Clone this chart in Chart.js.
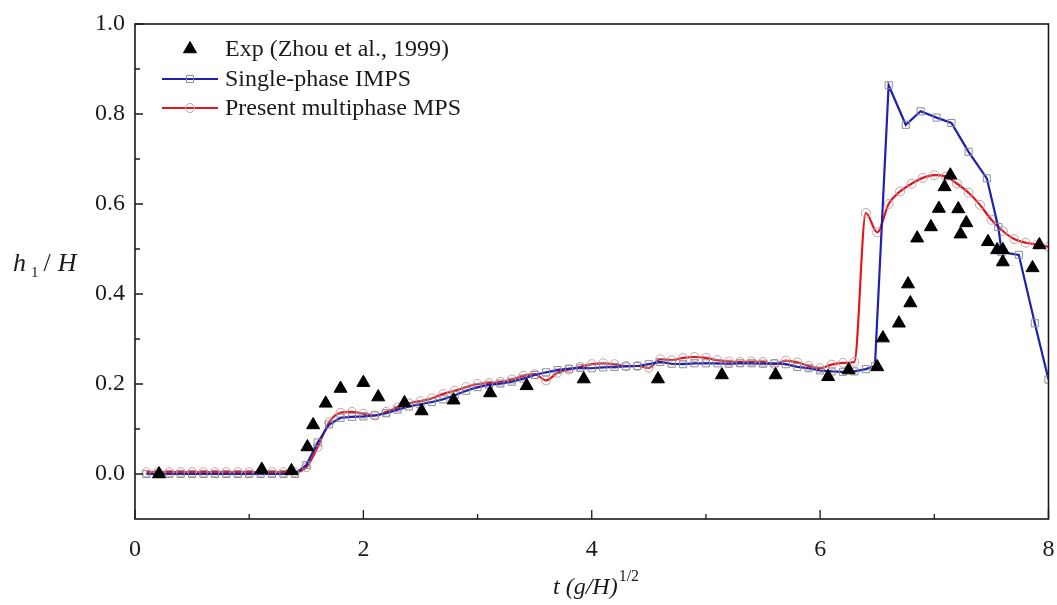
<!DOCTYPE html>
<html>
<head>
<meta charset="utf-8">
<script src="https://cdn.jsdelivr.net/npm/chart.js@4.4.1/dist/chart.umd.min.js"></script>
<style>
  html, body { margin: 0; padding: 0; background: #ffffff; }
  #wrap { width: 1057px; height: 605px; position: relative; }
</style>
</head>
<body>
<div id="wrap"><canvas id="c" width="1057" height="605"></canvas></div>
<script>
// ---------------- data ----------------
const expLabel = 'Exp (Zhou et al., 1999)';
const impsLabel = 'Single-phase IMPS';
const mpsLabel = 'Present multiphase MPS';

const expT = [0.21, 1.11, 1.37, 1.51, 1.56, 1.67, 1.80, 2.00, 2.13, 2.36, 2.51, 2.79, 3.11, 3.43, 3.93, 4.58, 5.14, 5.61,
  6.07, 6.25, 6.50, 6.55, 6.69, 6.79, 6.77, 6.85, 6.97, 7.04, 7.09, 7.14, 7.21, 7.23, 7.28, 7.47, 7.55, 7.60, 7.60, 7.86, 7.92];
const expH = [0.000, 0.010, 0.007, 0.060, 0.109, 0.157, 0.190, 0.203, 0.171, 0.158, 0.140, 0.164, 0.180, 0.196, 0.211, 0.211, 0.220, 0.220,
  0.216, 0.231, 0.238, 0.302, 0.335, 0.380, 0.422, 0.524, 0.549, 0.590, 0.638, 0.664, 0.589, 0.533, 0.558, 0.516, 0.498, 0.498, 0.471, 0.458, 0.509];

const impsT = [0.1, 0.2, 0.3, 0.4, 0.5, 0.6, 0.7, 0.8, 0.9, 1.0, 1.1, 1.2, 1.3, 1.4, 1.5, 1.6, 1.7, 1.8, 1.9, 2.0,
  2.1, 2.2, 2.3, 2.4, 2.5, 2.6, 2.7, 2.8, 2.9, 3.0, 3.1, 3.2, 3.3, 3.4, 3.5, 3.6, 3.7, 3.8, 3.9, 4.0,
  4.1, 4.2, 4.3, 4.4, 4.5, 4.6, 4.7, 4.8, 4.9, 5.0, 5.1, 5.2, 5.3, 5.4, 5.5, 5.6, 5.7, 5.8, 5.9, 6.0,
  6.1, 6.2, 6.3, 6.4, 6.48, 6.6, 6.75, 6.88, 7.02, 7.15, 7.3, 7.46, 7.56, 7.59, 7.74, 7.88, 8.0];
const impsH = [0, 0, 0, 0, 0, 0, 0, 0, 0, 0, 0, 0, 0, 0, 0.020, 0.070, 0.110, 0.125, 0.127, 0.128,
  0.130, 0.135, 0.143, 0.150, 0.155, 0.160, 0.166, 0.175, 0.185, 0.193, 0.198, 0.201, 0.205, 0.212, 0.220, 0.226, 0.231, 0.234, 0.236, 0.235,
  0.237, 0.238, 0.239, 0.240, 0.244, 0.249, 0.245, 0.244, 0.246, 0.246, 0.246, 0.245, 0.246, 0.246, 0.245, 0.246, 0.244, 0.238, 0.235, 0.230,
  0.228, 0.227, 0.228, 0.233, 0.240, 0.864, 0.776, 0.806, 0.792, 0.780, 0.716, 0.657, 0.549, 0.493, 0.487, 0.335, 0.210];

const mpsT = [0.1, 0.2, 0.3, 0.4, 0.5, 0.6, 0.7, 0.8, 0.9, 1.0, 1.1, 1.2, 1.3, 1.4, 1.5, 1.6, 1.7, 1.8, 1.9, 2.0,
  2.1, 2.2, 2.3, 2.4, 2.5, 2.6, 2.7, 2.8, 2.9, 3.0, 3.1, 3.2, 3.3, 3.4, 3.5, 3.6, 3.7, 3.8, 3.9, 4.0,
  4.1, 4.2, 4.3, 4.4, 4.5, 4.6, 4.7, 4.8, 4.9, 5.0, 5.1, 5.2, 5.3, 5.4, 5.5, 5.6, 5.7, 5.8, 5.9, 6.0,
  6.1, 6.2, 6.3, 6.4, 6.5, 6.6, 6.7, 6.8, 6.9, 7.0, 7.1, 7.2, 7.3, 7.4, 7.5, 7.6, 7.7, 7.8, 7.9, 8.0];
const mpsH = [0.004, 0.004, 0.004, 0.004, 0.004, 0.004, 0.004, 0.004, 0.004, 0.004, 0.004, 0.004, 0.004, 0.004, 0.015, 0.060, 0.115, 0.136, 0.138, 0.134,
  0.130, 0.138, 0.148, 0.157, 0.162, 0.168, 0.178, 0.185, 0.193, 0.200, 0.202, 0.205, 0.210, 0.218, 0.222, 0.208, 0.225, 0.232, 0.238, 0.244,
  0.246, 0.244, 0.240, 0.240, 0.236, 0.255, 0.253, 0.258, 0.260, 0.258, 0.253, 0.250, 0.249, 0.250, 0.249, 0.244, 0.252, 0.248, 0.240, 0.235,
  0.243, 0.247, 0.249, 0.580, 0.537, 0.600, 0.628, 0.645, 0.658, 0.664, 0.661, 0.645, 0.625, 0.598, 0.565, 0.540, 0.522, 0.514, 0.510, 0.505];

const xTickValues = [0, 2, 4, 6, 8];
const xTickLabels = ['0', '2', '4', '6', '8'];
const xMinorValues = [1, 3, 5, 7];
const yTickValues = [0.0, 0.2, 0.4, 0.6, 0.8, 1.0];
const yTickLabels = ['0.0', '0.2', '0.4', '0.6', '0.8', '1.0'];
const yMinorValues = [0.1, 0.3, 0.5, 0.7, 0.9];

// ---------------- styles ----------------
const SERIF = '"Liberation Serif", "Times New Roman", "DejaVu Serif", serif';
const BLUE = '#1f1fb0';
const RED = '#e3161f';
const INK = '#1a1a1a';

const toPts = (xs, ys) => xs.map((x, i) => ({ x: x, y: ys[i] }));

// draw frame, inward ticks, legend and axis titles
const decor = {
  id: 'decor',
  afterDraw(chart) {
    const ctx = chart.ctx;
    const a = chart.chartArea;
    const xs = chart.scales.x, ys = chart.scales.y;
    ctx.save();
    ctx.strokeStyle = INK;
    ctx.lineWidth = 1.6;
    ctx.strokeRect(a.left, a.top, a.right - a.left, a.bottom - a.top);
    ctx.lineWidth = 1.3;
    ctx.beginPath();
    xTickValues.forEach(v => { const p = xs.getPixelForValue(v); ctx.moveTo(p, a.bottom); ctx.lineTo(p, a.bottom - 9); });
    xMinorValues.forEach(v => { const p = xs.getPixelForValue(v); ctx.moveTo(p, a.bottom); ctx.lineTo(p, a.bottom - 5); });
    yTickValues.forEach(v => { const p = ys.getPixelForValue(v); ctx.moveTo(a.left, p); ctx.lineTo(a.left + 8, p); });
    yMinorValues.forEach(v => { const p = ys.getPixelForValue(v); ctx.moveTo(a.left, p); ctx.lineTo(a.left + 5, p); });
    ctx.stroke();

    // legend
    const rows = [a.top + 25, a.top + 55, a.top + 84];
    const lx0 = a.left + 27, lx1 = a.left + 83, lxm = a.left + 55, tx = a.left + 90;
    chart.data.datasets.forEach((ds, i) => {
      const y = rows[i];
      if (ds.showLine) {
        ctx.strokeStyle = ds.borderColor;
        ctx.lineWidth = ds.borderWidth;
        ctx.beginPath(); ctx.moveTo(lx0, y); ctx.lineTo(lx1, y); ctx.stroke();
      }
      ctx.fillStyle = ds.pointBackgroundColor;
      ctx.strokeStyle = ds.pointBorderColor;
      ctx.lineWidth = ds.pointBorderWidth;
      Chart.helpers.drawPoint(ctx, { pointStyle: ds.pointStyle, radius: ds.pointRadius, borderWidth: ds.pointBorderWidth, rotation: 0 }, lxm, y);
      ctx.fillStyle = INK;
      ctx.font = '24px ' + SERIF;
      ctx.textAlign = 'left';
      ctx.textBaseline = 'middle';
      ctx.fillText(ds.label, tx, y + 1);
    });

    // y title: h1 / H
    ctx.fillStyle = INK;
    ctx.textBaseline = 'alphabetic';
    ctx.textAlign = 'left';
    let x = 13, by = 271;
    ctx.font = 'italic 26px ' + SERIF; ctx.fillText('h', x, by); x += ctx.measureText('h').width + 5;
    ctx.font = '15px ' + SERIF; ctx.fillText('1', x, by + 6); x += ctx.measureText('1').width + 5;
    ctx.font = '26px ' + SERIF; ctx.fillText('/', x, by); x += ctx.measureText('/').width + 7;
    ctx.font = 'italic 26px ' + SERIF; ctx.fillText('H', x, by);

    // x title: t (g/H)^1/2
    x = 553; by = 594;
    ctx.font = 'italic 24px ' + SERIF;
    const main = 't (g/H)';
    ctx.fillText(main, x, by); x += ctx.measureText(main).width + 1;
    ctx.font = '16px ' + SERIF; ctx.fillText('1/2', x, by - 13);
    ctx.restore();
  }
};

const chart = new Chart(document.getElementById('c'), {
  type: 'scatter',
  data: {
    datasets: [
      {
        label: expLabel,
        data: toPts(expT, expH),
        showLine: false,
        pointStyle: 'triangle',
        pointRadius: 7.5,
        pointHoverRadius: 7.5,
        pointBorderWidth: 1,
        pointBackgroundColor: '#000000',
        pointBorderColor: '#000000',
        borderColor: '#000000',
        borderWidth: 1
      },
      {
        label: impsLabel,
        data: toPts(impsT, impsH),
        showLine: true,
        borderColor: BLUE,
        borderWidth: 2.2,
        pointStyle: 'rect',
        pointRadius: 5,
        pointHoverRadius: 5,
        pointBorderWidth: 1,
        pointBackgroundColor: 'rgba(255,255,255,0)',
        pointBorderColor: '#8c8c96',
        tension: 0
      },
      {
        label: mpsLabel,
        data: toPts(mpsT, mpsH),
        showLine: true,
        borderColor: RED,
        borderWidth: 2.2,
        pointStyle: 'circle',
        pointRadius: 4.5,
        pointHoverRadius: 4.5,
        pointBorderWidth: 1,
        pointBackgroundColor: 'rgba(255,255,255,0)',
        pointBorderColor: '#c4a2a2',
        cubicInterpolationMode: 'monotone'
      }
    ]
  },
  options: {
    responsive: false,
    animation: false,
    events: [],
    layout: { padding: { left: 0, right: 5, top: 24, bottom: 0 } },
    plugins: { legend: { display: false }, tooltip: { enabled: false } },
    scales: {
      x: {
        type: 'linear', min: 0, max: 8,
        afterBuildTicks: s => { s.ticks = xTickValues.map(v => ({ value: v })); },
        afterFit: s => { s.height = 86; s.paddingRight = 0; s.paddingLeft = 0; },
        grid: { display: false, drawTicks: false },
        border: { display: false },
        ticks: {
          padding: 16, color: INK, font: { family: SERIF, size: 24 },
          callback: (v) => xTickLabels[xTickValues.indexOf(v)] ?? ''
        }
      },
      y: {
        type: 'linear', min: -0.1, max: 1.0,
        afterBuildTicks: s => { s.ticks = yTickValues.map(v => ({ value: v })); },
        afterFit: s => { s.width = 135; s.paddingTop = 0; s.paddingBottom = 0; },
        grid: { display: false, drawTicks: false },
        border: { display: false },
        ticks: {
          padding: 10, color: INK, font: { family: SERIF, size: 24 },
          callback: (v) => { const i = yTickValues.findIndex(t => Math.abs(t - v) < 1e-9); return i >= 0 ? yTickLabels[i] : ''; }
        }
      }
    }
  },
  plugins: [decor]
});
</script>
</body>
</html>
